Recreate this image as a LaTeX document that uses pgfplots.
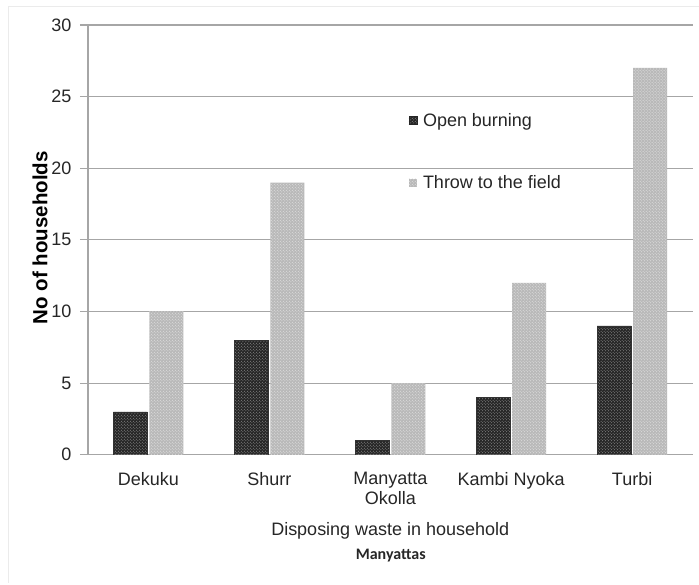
\documentclass[border=0pt]{standalone}
\usepackage{pgfplots}
\pgfplotsset{compat=1.18}
\usetikzlibrary{patterns}
\usepackage{fontspec}
\setmainfont{Liberation Sans}
\newfontfamily\calibri{Carlito}
\definecolor{gridgray}{HTML}{A6A6A6}
\definecolor{txt}{HTML}{262626}
\begin{document}
\begin{tikzpicture}
\begin{axis}[
    at={(0pt,0pt)}, anchor=south west,
    scale only axis,
    width=605pt, height=430pt,
    ybar, bar width=34pt,
    xmin=-0.5, xmax=4.5,
    ymin=0, ymax=30,
    ytick={0,5,...,30},
    xtick={0,1,2,3,4},
    xticklabels={Dekuku, Shurr, {Manyatta\\Okolla}, Kambi Nyoka, Turbi},
    x tick label style={align=center, text=txt, font=\fontsize{18}{20}\selectfont, yshift=-6pt},
    y tick label style={text=txt, font=\fontsize{18}{20}\selectfont, xshift=-5pt},
    /pgf/number format/assume math mode=true,
    axis x line*=bottom, axis y line*=left,
    axis line style={gridgray, line width=1.2pt},
    x axis line style={-}, y axis line style={-},
    ymajorgrids, grid style={gridgray, line width=1.2pt},
    major tick length=8pt,
    xtick style={draw=none},
    ytick style={gridgray, line width=1.2pt},
    tick align=outside,
    xlabel={Disposing waste in household},
    xlabel style={at={(rel axis cs:0.5,0)}, anchor=center, yshift=-76pt, font=\fontsize{18}{20}\selectfont, text=txt},
    legend style={draw=none, fill=none, at={(rel axis cs:0.53,0.80)}, anchor=north west,
        font=\fontsize{18}{20}\selectfont, text=txt, row sep=44pt, inner sep=0pt,
        /tikz/every odd column/.append style={column sep=4pt}},
    legend cell align=left,
]
\addplot[fill=black!85, draw=black!80, postaction={pattern=crosshatch dots, pattern color=gray!80},
    legend image code/.code={\fill[black!85] (0pt,-4pt) rectangle (8pt,4pt);}]
    coordinates {(0,3) (1,8) (2,1) (3,4) (4,9)};
\addlegendentry{Open burning}
\addplot[fill=gray!55, draw=none, postaction={pattern=crosshatch dots, pattern color=white!80!gray},
    legend image code/.code={\fill[gray!55] (0pt,-4pt) rectangle (8pt,4pt);}]
    coordinates {(0,10) (1,19) (2,5) (3,12) (4,27)};
\addlegendentry{Throw to the field}
\end{axis}
\node[rotate=90, font=\bfseries\fontsize{20.5}{22}\selectfont, text=black] at (-48pt,217pt) {No of households};
\node[font=\calibri\bfseries\fontsize{16}{18}\selectfont, text=txt] at (303pt,-101pt) {Manyattas};
\draw[black!8, line width=0.8pt] (-80pt,-128pt) -- (-80pt,449pt) -- (611pt,449pt);
\path[use as bounding box] (-88pt,-130pt) rectangle (611pt,455pt);
\end{tikzpicture}
\end{document}
